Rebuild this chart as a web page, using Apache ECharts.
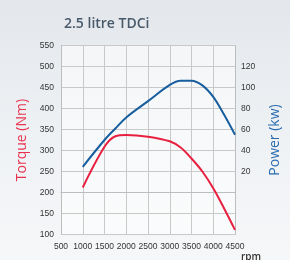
<!DOCTYPE html>
<html><head><meta charset="utf-8">
<script src="https://cdn.jsdelivr.net/npm/echarts@6/dist/echarts.min.js"></script>
<style>
html,body{margin:0;padding:0;width:290px;height:260px;overflow:hidden;background:linear-gradient(180deg,#e3e7eb 0%,#eef1f4 50%,#f6f7f9 100%);}
#c{width:290px;height:260px;}
</style></head><body><div id="c"></div>
<script>
const title = '2.5 litre TDCi';
const rpm = [1000, 1500, 1750, 2000, 2500, 3000, 3250, 3500, 3750, 4000, 4250, 4500];
const torqueNm = [212, 309, 334, 337, 333, 322, 307, 281, 250, 210, 162, 111];
const powerKw = [24.5, 50, 61, 71.5, 87, 102.5, 106.5, 106.5, 102, 91, 74, 55];
const xTicks = [500, 1000, 1500, 2000, 2500, 3000, 3500, 4000, 4500];
const torqueTicks = [100, 150, 200, 250, 300, 350, 400, 450, 500, 550];
const powerTicks = [20, 40, 60, 80, 100, 120];

const chart = echarts.init(document.getElementById('c'), null, {renderer: 'canvas'});
const font = 'Open Sans, Noto Sans, sans-serif';
const tickFont = 'Liberation Sans, Arial, sans-serif';
chart.setOption({
  backgroundColor: 'transparent',
  animation: false,
  title: {text: title, left: 59, top: 12, textStyle: {fontFamily: font, fontSize: 14, fontWeight: 600, color: '#48596a'}},
  grid: {left: 61, right: 41, top: 45.5, bottom: 25.5, show: true, backgroundColor: 'rgba(255,255,255,0.55)', borderWidth: 0},
  xAxis: {
    type: 'value', min: xTicks[0], max: xTicks[xTicks.length - 1], interval: 500,
    axisLine: {show: true, lineStyle: {color: '#bdbdbd'}},
    axisTick: {show: false},
    splitLine: {show: true, lineStyle: {color: '#c9c9c9'}},
    axisLabel: {fontFamily: tickFont, fontSize: 8.5, color: '#333', margin: 8, hideOverlap: false,
      showMinLabel: true, showMaxLabel: true, formatter: v => String(v)}
  },
  yAxis: [{
    type: 'value', min: torqueTicks[0], max: torqueTicks[torqueTicks.length - 1], interval: 50,
    name: 'Torque (Nm)', nameLocation: 'middle', nameGap: 31,
    nameTextStyle: {fontFamily: font, fontSize: 14, color: '#e8324f'},
    axisLine: {show: true, lineStyle: {color: '#bdbdbd'}},
    axisTick: {show: false},
    splitLine: {show: true, lineStyle: {color: '#c9c9c9'}},
    axisLabel: {fontFamily: tickFont, fontSize: 8.5, color: '#333', margin: 7, formatter: v => String(v)}
  }, {
    type: 'value', min: -40, max: 140, interval: 20, position: 'right',
    name: 'Power (kw)', nameLocation: 'middle', nameGap: 33,
    nameTextStyle: {fontFamily: font, fontSize: 14, color: '#2a6cb0'},
    axisLine: {show: true, lineStyle: {color: '#bdbdbd'}},
    axisTick: {show: false},
    splitLine: {show: false},
    axisLabel: {fontFamily: tickFont, fontSize: 8.5, color: '#333', margin: 6,
      formatter: v => powerTicks.includes(v) ? String(v) : ''}
  }],
  graphic: [{type: 'text', left: 241, top: 252, style: {text: 'rpm', font: '600 10px ' + font, fill: '#333'}}],
  series: [{
    type: 'line', yAxisIndex: 0, smooth: 0.35, showSymbol: false,
    data: rpm.map((r, i) => [r, torqueNm[i]]),
    lineStyle: {color: '#e8203f', width: 2}
  }, {
    type: 'line', yAxisIndex: 1, smooth: 0.35, showSymbol: false,
    data: rpm.map((r, i) => [r, powerKw[i]]),
    lineStyle: {color: '#175e9f', width: 2}
  }]
});
</script></body></html>
